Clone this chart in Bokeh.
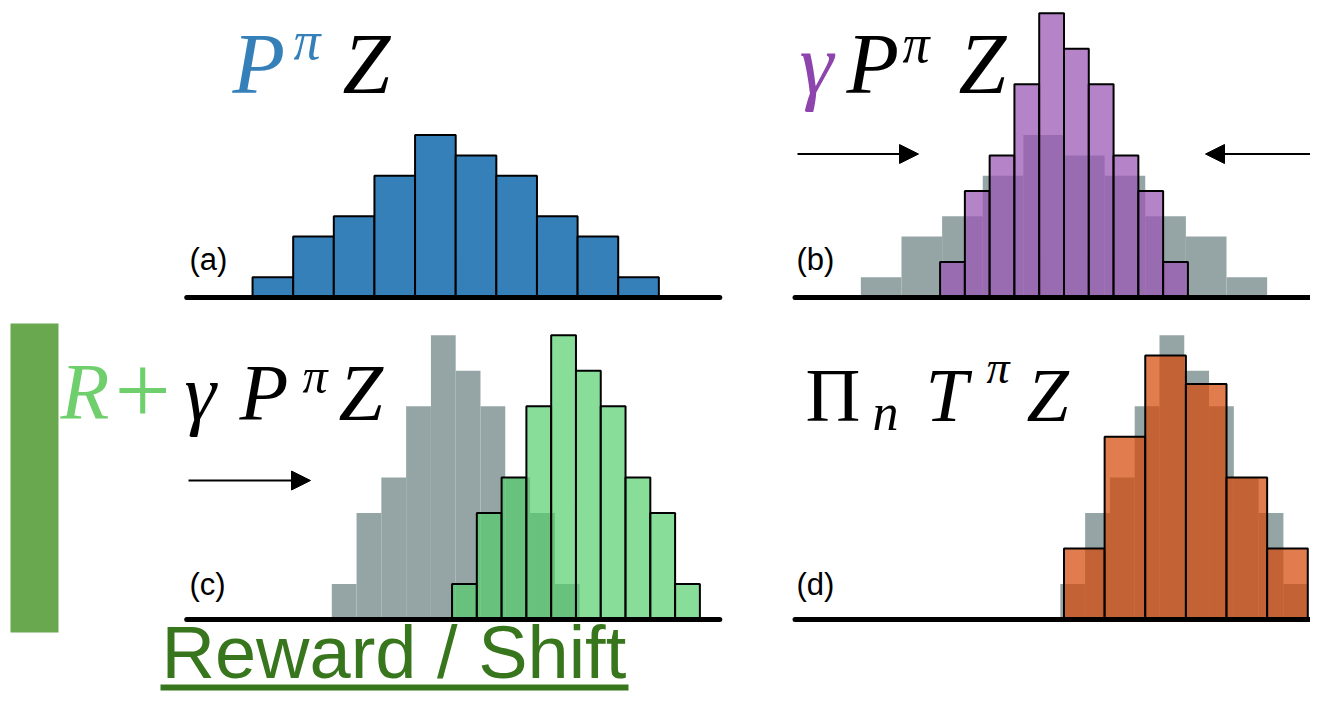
from bokeh.plotting import figure
from bokeh.models import Range1d, Label, Arrow, NormalHead
from bokeh.layouts import column, row
from bokeh.embed import file_html
from bokeh.resources import INLINE

# ---------------- data ----------------
# (a) original return distribution Z (bin centres, bin width, heights)
z_atoms = [-4.5, -3.5, -2.5, -1.5, -0.5, 0.5, 1.5, 2.5, 3.5, 4.5]
z_width = 1.0
z_heights = [1, 3, 4, 6, 8, 7, 6, 4, 3, 1]

# (b) discounted distribution gamma * P Z
gz_atoms = [-2.745, -2.135, -1.525, -0.915, -0.305, 0.305, 0.915, 1.525, 2.135, 2.745]
gz_width = 0.61
gz_heights = [1.75, 5.25, 7, 10.5, 14, 12.25, 10.5, 7, 5.25, 1.75]

# (c) reward-shifted distribution R + gamma P Z
tz_atoms = [0.215, 0.825, 1.435, 2.045, 2.655, 3.265, 3.875, 4.485, 5.095, 5.705]
tz_width = 0.61
tz_heights = [1.75, 5.25, 7, 10.5, 14, 12.25, 10.5, 7, 5.25, 1.75]

# (d) projected distribution onto the support
proj_atoms = [0.5, 1.5, 2.5, 3.5, 4.5, 5.5]
proj_width = 1.0
proj_heights = [3.5, 9.0, 13.0, 11.6, 7.0, 3.5]

axis_extent = [-6.62, 6.50]

# ---------------- style ----------------
BLUE = "#3680BA"
GRAY = "#95A5A6"
PURPLE = "#9B59B6"
GREEN = "#55CF6E"
ORANGE = "#D54A0A"
SERIF = "Liberation Serif"
SANS = "Liberation Sans"

PXX = 40.63   # pixels per x unit
PXY = 20.3    # pixels per height unit
BASE_SHIFT = 0.34  # label anchor correction (fraction of font size)


def make_panel(box, origin):
    x0, y0, x1, y1 = box
    ox, oy = origin
    p = figure(width=x1 - x0, height=y1 - y0,
               x_range=Range1d((x0 - ox) / PXX, (x1 - ox) / PXX),
               y_range=Range1d((oy - y1) / PXY, (oy - y0) / PXY),
               output_backend="svg", toolbar_location=None,
               x_axis_type=None, y_axis_type=None, min_border=0,
               outline_line_color=None, background_fill_color="white",
               border_fill_color="white")
    fx = lambda rx: (rx - ox) / PXX
    fy = lambda ry: (oy - ry) / PXY
    return p, fx, fy


def txt(p, fx, fy, rx, ry, s, size, color="black", style="italic", font=SERIF):
    p.add_layout(Label(x=fx(rx), y=fy(ry - BASE_SHIFT * size), text=s, text_font=font,
                       text_font_size=f"{size}px", text_font_style=style,
                       text_color=color, text_baseline="alphabetic",
                       text_align="left"))


def arrow(p, fx, fy, rx0, rx1, ry):
    p.add_layout(Arrow(end=NormalHead(size=19, fill_color="black", line_color="black", line_width=1),
                       x_start=fx(rx0), y_start=fy(ry), x_end=fx(rx1), y_end=fy(ry),
                       line_width=2, line_color="black"))


def baseline(p):
    p.line(x=axis_extent, y=[0, 0], line_width=5, line_color="black", line_cap="round")


# ---------------- (a) ----------------
pa, fxa, fya = make_panel((0, 0, 780, 310), (455.2, 297))
pa.vbar(x=z_atoms, width=z_width, top=z_heights, bottom=0,
        fill_color=BLUE, line_color="black", line_width=2)
baseline(pa)
txt(pa, fxa, fya, 232, 93, "P", 86, BLUE)
txt(pa, fxa, fya, 293, 59, "π", 54, BLUE)
txt(pa, fxa, fya, 342, 93, "Z", 86)
txt(pa, fxa, fya, 189, 270, "(a)", 31, style="normal", font=SANS)

# ---------------- (b) ----------------
pb, fxb, fyb = make_panel((780, 0, 1310, 310), (1063.5, 297))
pb.vbar(x=z_atoms, width=z_width, top=z_heights, bottom=0,
        fill_color=GRAY, line_color=None)
pb.vbar(x=gz_atoms, width=gz_width, top=gz_heights, bottom=0,
        fill_color=PURPLE, fill_alpha=0.75, line_color="black", line_width=2)
baseline(pb)
txt(pb, fxb, fyb, 799, 93, "γ", 86, "#8E44AD")
txt(pb, fxb, fyb, 846, 93, "P", 86)
txt(pb, fxb, fyb, 902, 62, "π", 54)
txt(pb, fxb, fyb, 958, 93, "Z", 86)
txt(pb, fxb, fyb, 796, 270, "(b)", 31, style="normal", font=SANS)
arrow(pb, fxb, fyb, 797, 918, 153.5)
arrow(pb, fxb, fyb, 1340, 1205, 153.5)

# ---------------- (c) ----------------
pc, fxc, fyc = make_panel((0, 310, 780, 693), (455.2, 619))
pc.quad(left=[fxc(10)], right=[fxc(58)], bottom=[fyc(632)], top=[fyc(323)],
        fill_color="#6AA84F", line_color=None)
pc.vbar(x=gz_atoms, width=gz_width, top=gz_heights, bottom=0,
        fill_color=GRAY, line_color=None)
pc.vbar(x=tz_atoms, width=tz_width, top=tz_heights, bottom=0,
        fill_color=GREEN, fill_alpha=0.7, line_color="black", line_width=2)
baseline(pc)
txt(pc, fxc, fyc, 60, 419, "R", 80, "#6FCF6C")
txt(pc, fxc, fyc, 114, 425, "+", 100, "#6FCF6C", style="normal")
txt(pc, fxc, fyc, 184, 420, "γ", 80)
txt(pc, fxc, fyc, 239, 420, "P", 80)
txt(pc, fxc, fyc, 302, 392, "π", 50)
txt(pc, fxc, fyc, 338, 420, "Z", 80)
txt(pc, fxc, fyc, 189, 595, "(c)", 31, style="normal", font=SANS)
arrow(pc, fxc, fyc, 188, 310, 480)
txt(pc, fxc, fyc, 161, 677, "Reward / Shift", 74, "#38761D", style="normal", font=SANS)
pc.quad(left=[fxc(160)], right=[fxc(628)], bottom=[fyc(690)], top=[fyc(684)],
        fill_color="#38761D", line_color=None)

# ---------------- (d) ----------------
pd_, fxd, fyd = make_panel((780, 310, 1310, 693), (1063.5, 619))
pd_.vbar(x=tz_atoms, width=tz_width, top=tz_heights, bottom=0,
         fill_color=GRAY, line_color=None)
pd_.vbar(x=proj_atoms, width=proj_width, top=proj_heights, bottom=0,
         fill_color=ORANGE, fill_alpha=0.72, line_color="black", line_width=2)
baseline(pd_)
txt(pd_, fxd, fyd, 805, 420, "Π", 76, style="normal")
txt(pd_, fxd, fyd, 872, 430, "n", 52)
txt(pd_, fxd, fyd, 925, 420, "T", 76)
txt(pd_, fxd, fyd, 986, 383, "π", 46)
txt(pd_, fxd, fyd, 1026, 420, "Z", 76)
txt(pd_, fxd, fyd, 796, 595, "(d)", 31, style="normal", font=SANS)

layout = column(row(pa, pb), row(pc, pd_))
open("out.html", "w").write(file_html(layout, INLINE))
